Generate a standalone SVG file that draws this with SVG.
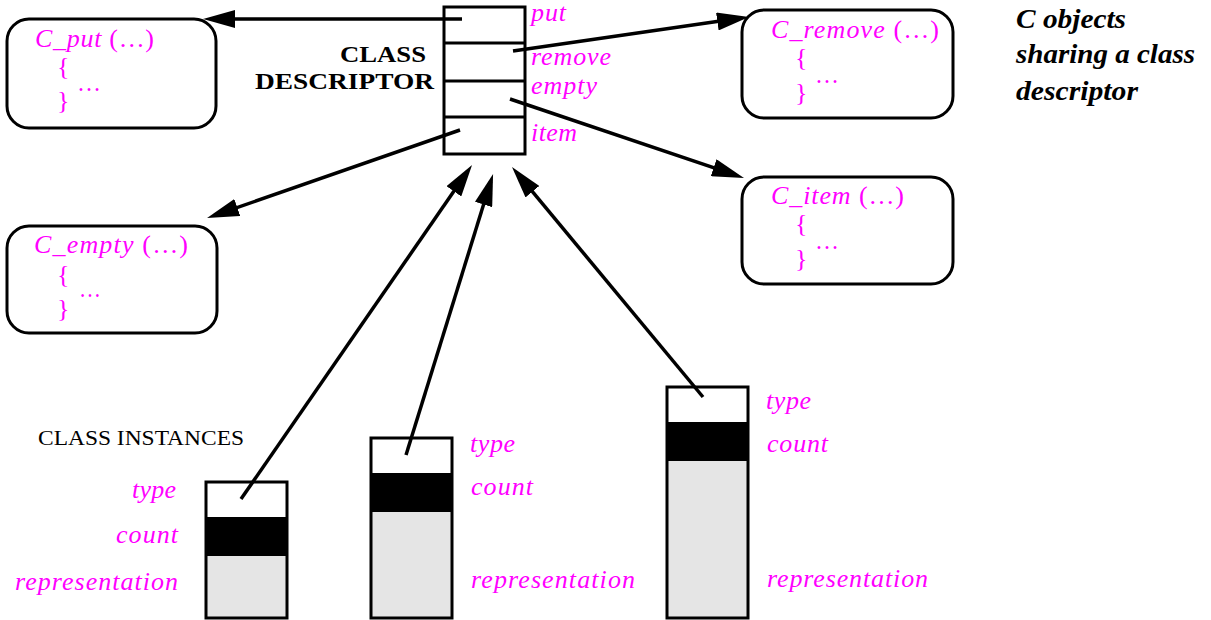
<svg xmlns="http://www.w3.org/2000/svg" width="1211" height="620" viewBox="0 0 1211 620">
<style>
.mg{fill:#ff00ff;font-family:"Liberation Serif","Times New Roman",serif;font-size:26px}
.it{font-style:italic}
.fn{fill:#fff;stroke:#000;stroke-width:3}
.ln{stroke:#000;stroke-width:3.5;fill:none}
.bx{fill:none;stroke:#000;stroke-width:3}
.hd{font-family:"Liberation Serif","Times New Roman",serif;font-weight:bold;font-size:23px;fill:#000}
.note{font-family:"Liberation Serif","Times New Roman",serif;font-weight:bold;font-style:italic;font-size:28px;fill:#000}
.lbl{font-family:"Liberation Serif","Times New Roman",serif;font-size:21px;fill:#000}
</style>
<defs>
<marker id="ah" markerUnits="userSpaceOnUse" markerWidth="32" markerHeight="18" viewBox="0 0 32 18" refX="24" refY="9" orient="auto">
<path d="M0,0 L32,9 L0,18 Z" fill="#000"/>
</marker>
</defs>
<rect width="1211" height="620" fill="#fff"/>

<g id="descriptor">
<rect x="444" y="7" width="81" height="147" class="bx"/>
<line x1="444" y1="43" x2="525" y2="43" class="bx"/>
<line x1="444" y1="81" x2="525" y2="81" class="bx"/>
<line x1="444" y1="117" x2="525" y2="117" class="bx"/>
<text x="531" y="21" class="mg it" textLength="35" lengthAdjust="spacing">put</text>
<text x="531" y="65" class="mg it" textLength="80" lengthAdjust="spacing">remove</text>
<text x="531" y="94" class="mg it" textLength="66" lengthAdjust="spacing">empty</text>
<text x="531" y="141" class="mg it" textLength="46" lengthAdjust="spacing">item</text>
<text x="340" y="62" class="hd" textLength="86" lengthAdjust="spacingAndGlyphs">CLASS</text>
<text x="255" y="89" class="hd" textLength="179" lengthAdjust="spacingAndGlyphs">DESCRIPTOR</text>
</g>

<g id="note">
<text x="1016" y="28" class="note" textLength="110" lengthAdjust="spacingAndGlyphs">C objects</text>
<text x="1016" y="63" class="note" textLength="179" lengthAdjust="spacingAndGlyphs">sharing a class</text>
<text x="1016" y="100" class="note" textLength="122" lengthAdjust="spacingAndGlyphs">descriptor</text>
</g>

<g id="c_put">
<rect x="7" y="19" width="209" height="109" rx="22" ry="22" class="fn"/>
<text x="35" y="47" class="mg" textLength="119" lengthAdjust="spacing"><tspan class="it">C_put</tspan> (…)</text>
<text x="57" y="75" class="mg">{</text>
<text x="57" y="109" class="mg">}</text>
<text x="77" y="91" class="mg" textLength="24" lengthAdjust="spacingAndGlyphs">…</text>
</g>

<g id="c_remove">
<rect x="742" y="10" width="211" height="108" rx="22" ry="22" class="fn"/>
<text x="771" y="38" class="mg" textLength="168" lengthAdjust="spacing"><tspan class="it">C_remove</tspan> (…)</text>
<text x="795" y="66" class="mg">{</text>
<text x="795" y="101" class="mg">}</text>
<text x="815" y="83" class="mg" textLength="24" lengthAdjust="spacingAndGlyphs">…</text>
</g>

<g id="c_item">
<rect x="742" y="177" width="211" height="107" rx="22" ry="22" class="fn"/>
<text x="771" y="204" class="mg" textLength="133" lengthAdjust="spacing"><tspan class="it">C_item</tspan> (…)</text>
<text x="795" y="232" class="mg">{</text>
<text x="795" y="267" class="mg">}</text>
<text x="815" y="249" class="mg" textLength="24" lengthAdjust="spacingAndGlyphs">…</text>
</g>

<g id="c_empty">
<rect x="7" y="226" width="210" height="107" rx="22" ry="22" class="fn"/>
<text x="34" y="253" class="mg" textLength="154" lengthAdjust="spacing"><tspan class="it">C_empty</tspan> (…)</text>
<text x="57" y="283" class="mg">{</text>
<text x="57" y="317" class="mg">}</text>
<text x="79" y="297" class="mg" textLength="22" lengthAdjust="spacingAndGlyphs">…</text>
</g>

<g id="instances_label">
<text x="38" y="445" class="lbl" textLength="206" lengthAdjust="spacingAndGlyphs">CLASS INSTANCES</text>
</g>

<g id="instance1">
<rect x="206" y="482" width="81" height="136" fill="#fff"/>
<rect x="206" y="517" width="81" height="39" fill="#000"/>
<rect x="206" y="556" width="81" height="62" fill="#e5e5e5"/>
<rect x="206" y="482" width="81" height="136" class="bx"/>
<text x="132" y="498" class="mg it" textLength="44" lengthAdjust="spacing">type</text>
<text x="116" y="543" class="mg it" textLength="62" lengthAdjust="spacing">count</text>
<text x="15" y="590" class="mg it" textLength="163" lengthAdjust="spacing">representation</text>
</g>

<g id="instance2">
<rect x="371" y="438" width="81" height="180" fill="#fff"/>
<rect x="371" y="473" width="81" height="39" fill="#000"/>
<rect x="371" y="512" width="81" height="106" fill="#e5e5e5"/>
<rect x="371" y="438" width="81" height="180" class="bx"/>
<text x="470" y="452" class="mg it" textLength="45" lengthAdjust="spacing">type</text>
<text x="471" y="495" class="mg it" textLength="62" lengthAdjust="spacing">count</text>
<text x="471" y="588" class="mg it" textLength="164" lengthAdjust="spacing">representation</text>
</g>

<g id="instance3">
<rect x="667" y="387" width="81" height="231" fill="#fff"/>
<rect x="667" y="422" width="81" height="39" fill="#000"/>
<rect x="667" y="461" width="81" height="157" fill="#e5e5e5"/>
<rect x="667" y="387" width="81" height="231" class="bx"/>
<text x="766" y="409" class="mg it" textLength="45" lengthAdjust="spacing">type</text>
<text x="767" y="452" class="mg it" textLength="61" lengthAdjust="spacing">count</text>
<text x="767" y="587" class="mg it" textLength="161" lengthAdjust="spacing">representation</text>
</g>

<g id="connectors">
<line x1="462" y1="19" x2="211" y2="19" class="ln" marker-end="url(#ah)"/>
<line x1="513" y1="51" x2="741.1" y2="18.1" class="ln" marker-end="url(#ah)"/>
<line x1="510" y1="99" x2="736.4" y2="175.4" class="ln" marker-end="url(#ah)"/>
<line x1="460" y1="130" x2="214.6" y2="215.4" class="ln" marker-end="url(#ah)"/>
<line x1="241" y1="499" x2="467.5" y2="171.6" class="ln" marker-end="url(#ah)"/>
<line x1="406" y1="455" x2="490.7" y2="181.6" class="ln" marker-end="url(#ah)"/>
<line x1="703" y1="397" x2="517.1" y2="173.2" class="ln" marker-end="url(#ah)"/>
</g>
</svg>
